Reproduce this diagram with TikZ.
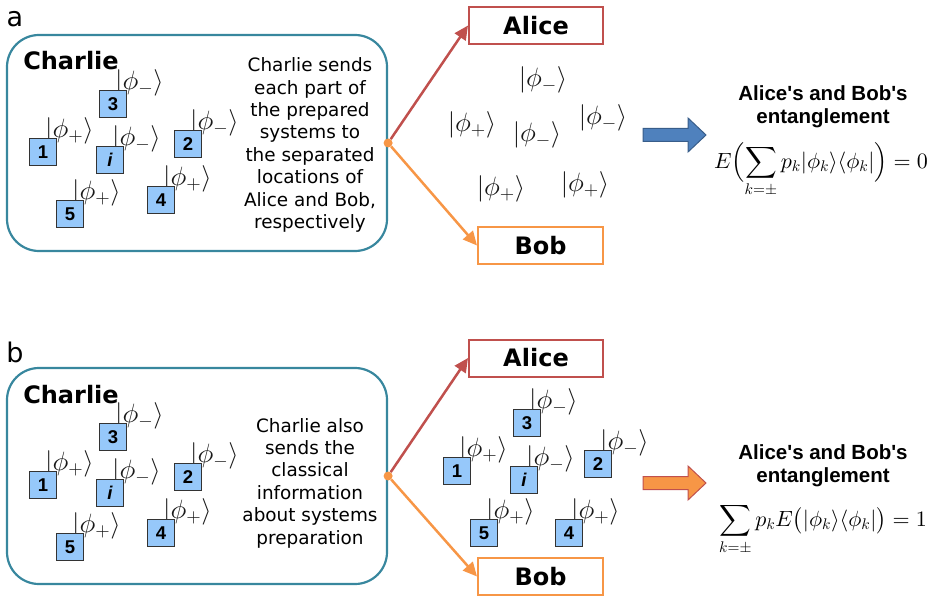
\documentclass[tikz,border=0pt]{standalone}
\usepackage{fontspec}
\usepackage{amsmath}
\DeclareFontShape{OML}{cmm}{m}{it}{<->cmmi10}{}
\DeclareFontShape{OMS}{cmsy}{m}{n}{<->cmsy10}{}
\DeclareFontShape{OT1}{cmr}{m}{n}{<->cmr10}{}
\DeclareFontShape{OMX}{cmex}{m}{n}{<->cmex10}{}
\setsansfont{DejaVu Sans}
\newfontfamily\libsans{Liberation Sans}[Ligatures=TeXOff]
\usetikzlibrary{arrows.meta}
\definecolor{tealc}{RGB}{56,135,158}
\definecolor{redc}{RGB}{192,80,77}
\definecolor{orangec}{RGB}{247,150,70}
\definecolor{qblue}{RGB}{150,200,250}
\definecolor{blueA}{RGB}{79,129,189}
\definecolor{blueB}{RGB}{56,93,138}
\newcommand{\qsys}[5]{%
  \coordinate (#1) at (#2,#3);
  \node[ket,anchor=west] (#1k) at ([shift={(2,-21.5)}]#1) {$|\phi_{#5}\rangle$};
  \node[qbox] (#1b) at (#1) {#4};
}
\begin{document}
\begin{tikzpicture}[x=1pt,y=-1pt,
  lbl/.style={font=\sffamily\fontsize{27}{27}\selectfont, anchor=base, inner sep=0pt},
  charliebox/.style={draw=tealc, line width=2.2pt, rounded corners=32pt, minimum width=380pt, minimum height=216pt, inner sep=0pt},
  charlietitle/.style={font=\sffamily\bfseries\fontsize{24}{24}\selectfont, anchor=base, inner sep=0pt},
  desc/.style={font=\sffamily\fontsize{18.4}{22.4}\selectfont, align=center, inner sep=0pt},
  qbox/.style={draw=black!80, fill=qblue, line width=1.1pt, minimum width=27pt, minimum height=27pt, inner sep=0pt, font=\libsans\bfseries\fontsize{18.5}{18.5}\selectfont},
  ket/.style={inner sep=0pt, text=black!90, font=\fontsize{26.5}{26.5}\selectfont},
  alicebox/.style={draw=redc, line width=2pt, minimum width=134pt, minimum height=37pt, inner sep=0pt, font=\sffamily\bfseries\fontsize{24}{24}\selectfont},
  bobbox/.style={draw=orangec, line width=2pt, minimum width=125pt, minimum height=37pt, inner sep=0pt, font=\sffamily\bfseries\fontsize{24}{24}\selectfont},
  dot/.style={circle, fill=orangec, minimum size=9pt, inner sep=0pt},
  redarrow/.style={draw=redc, line width=2.5pt, -{Triangle[length=14pt,width=13pt]}},
  orangearrow/.style={draw=orangec, line width=2.5pt, -{Triangle[length=14pt,width=13pt]}},
  bluearrow/.style={fill=blueA, draw=blueB, line width=1pt},
  orangebig/.style={fill=orangec, draw=redc, line width=1pt},
  enttext/.style={font=\libsans\bfseries\fontsize{20.5}{23}\selectfont, align=center, inner sep=0pt},
  formula/.style={font=\fontsize{22}{26}\selectfont, inner sep=0pt, anchor=base}
]
\useasboundingbox (0,0) rectangle (933,596);

% ---------------- panel a ----------------
\node[lbl] (la) at (15,27) {a};
\node[charliebox] (aC) at (197,143) {};
\node[charlietitle] (aCt) at (71,70) {Charlie};
\node[desc] (aDesc) at (310,145) {Charlie sends\\each part of\\the prepared\\systems to\\the separated\\locations of\\Alice and Bob,\\respectively};
\qsys{a3}{113}{104}{3}{-}
\qsys{a1}{43}{152}{1}{+}
\qsys{ai}{110}{160}{\itshape i}{-}
\qsys{a2}{188}{144}{2}{-}
\qsys{a5}{70}{214}{5}{+}
\qsys{a4}{161}{200}{4}{+}

\node[alicebox] (aA) at (536,25.5) {Alice};
\node[bobbox] (aB) at (540.5,245.5) {Bob};
\node[dot] (aD) at (aC.east) {};
\draw[redarrow] (aD) -- (aA.west);
\draw[orangearrow] (aD) -- (aB.west);

\node[ket] (ak1) at (543,80) {$|\phi_-\rangle$};
\node[ket] (ak2) at (472,125) {$|\phi_+\rangle$};
\node[ket] (ak3) at (537,135) {$|\phi_-\rangle$};
\node[ket] (ak4) at (603,118) {$|\phi_-\rangle$};
\node[ket] (ak5) at (501,189) {$|\phi_+\rangle$};
\node[ket] (ak6) at (585,185) {$|\phi_+\rangle$};

\coordinate (aArr) at (643,135);
\filldraw[bluearrow] (aArr) ++(0,-6.5) -- ++(45,0) -- ++(0,-10.5) -- ++(18,17) -- ++(-18,17) -- ++(0,-10.5) -- ++(-45,0) -- cycle;

\node[enttext] (aT) at (823,107) {Alice's and Bob's\\entanglement};
\node[formula] (aF) at (821,168) {$\displaystyle E\Bigl(\sum_{k=\pm}p_k|\phi_k\rangle\langle\phi_k|\Bigr)=0$};

% ---------------- panel b ----------------
\node[lbl] (lb) at (15,362) {b};
\node[charliebox] (bC) at (197,476) {};
\node[charlietitle] (bCt) at (71,403) {Charlie};
\node[desc] (bDesc) at (310,483) {Charlie also\\sends the\\classical\\information\\about systems\\preparation};
\qsys{b3}{113}{437}{3}{-}
\qsys{b1}{43}{485}{1}{+}
\qsys{bi}{110}{493}{\itshape i}{-}
\qsys{b2}{188}{477}{2}{-}
\qsys{b5}{70}{547}{5}{+}
\qsys{b4}{161}{533}{4}{+}

\node[alicebox] (bA) at (536,358) {Alice};
\node[bobbox] (bB) at (540.5,576.5) {Bob};
\node[dot] (bD) at (bC.east) {};
\draw[redarrow] (bD) -- (bA.west);
\draw[orangearrow] (bD) -- (bB.west);

\qsys{c3}{527}{423}{3}{-}
\qsys{c1}{457}{471}{1}{+}
\qsys{ci}{524}{480}{\itshape i}{-}
\qsys{c2}{598}{464}{2}{-}
\qsys{c5}{484}{533}{5}{+}
\qsys{c4}{569}{533}{4}{+}

\coordinate (bArr) at (643,483);
\filldraw[orangebig] (bArr) ++(0,-6.5) -- ++(45,0) -- ++(0,-10.5) -- ++(18,17) -- ++(-18,17) -- ++(0,-10.5) -- ++(-45,0) -- cycle;

\node[enttext] (bT) at (823,466) {Alice's and Bob's\\entanglement};
\node[formula] (bF) at (823,526) {$\displaystyle \sum_{k=\pm}p_kE\bigl(|\phi_k\rangle\langle\phi_k|\bigr)=1$};
\end{tikzpicture}
\end{document}
